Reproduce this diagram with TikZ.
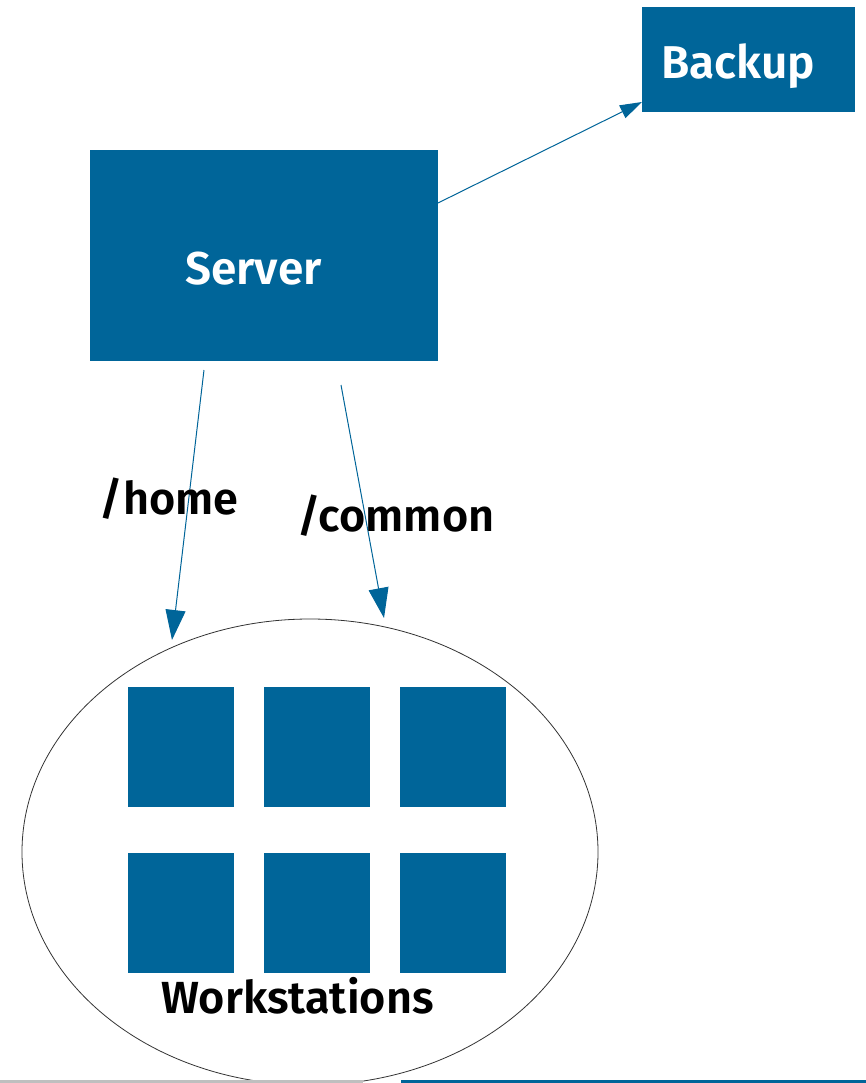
\documentclass[tikz,border=0pt]{standalone}
\usepackage{fontspec}
\setmainfont{Fira Sans}[BoldFont=* SemiBold]
\usetikzlibrary{arrows.meta,shapes.geometric}
\definecolor{nblue}{RGB}{0,101,153}
\begin{document}
\begin{tikzpicture}[x=1pt,y=-1pt,
  box/.style={fill=nblue,draw=none,inner sep=0pt},
  ws/.style={fill=nblue,draw=none,minimum width=106pt,minimum height=120pt,inner sep=0pt},
  lbl/.style={font=\fontsize{45}{49}\selectfont\bfseries,text=black,inner sep=0pt,anchor=base},
  wlbl/.style={lbl,text=white,font=\fontsize{46}{50}\selectfont\bfseries},
  conn/.style={draw=nblue,line width=1pt,-{Triangle[length=30pt,width=20pt]}}]
\useasboundingbox (0,0) rectangle (866,1083);
\fill[white] (0,0) rectangle (866,1083);
\node[box,minimum width=213pt,minimum height=105pt] (backup) at (748.5,59.5) {};
\node[box,minimum width=348pt,minimum height=211pt] (server) at (264,255.5) {};
\node[wlbl] (backuptext) at (738,79) {Backup};
\node[wlbl] (servertext) at (253.5,284) {Server};
\coordinate (sb) at (438,203);
\coordinate (tb) at (642,102);
\draw[draw=nblue,line width=1pt,-{Triangle[length=22pt,width=14pt]}] (sb) -- (tb);
\begin{scope}
\clip (0,0) rectangle (866,1083);
\node[draw=black!80,line width=0.8pt,ellipse,minimum width=576pt,minimum height=466pt,inner sep=0pt] (wsgroup) at (310,852) {};
\end{scope}
\node[ws] (w1) at (181,747) {};
\node[ws] (w2) at (317,747) {};
\node[ws] (w3) at (453,747) {};
\node[ws] (w4) at (181,913) {};
\node[ws] (w5) at (317,913) {};
\node[ws] (w6) at (453,913) {};
\node[lbl] (wlabel) at (297.5,1013) {Workstations};
\coordinate (h0) at (204,370);
\coordinate (h1) at (172,640);
\coordinate (c0) at (341,385);
\coordinate (c1) at (384,618);
\draw[conn] (h0) -- (h1);
\draw[conn] (c0) -- (c1);
\node[lbl] (home) at (169,514) {/home};
\node[lbl] (common) at (396,531) {/common};
\fill[black!25] (0,1080) rectangle (363,1083);
\fill[nblue] (401,1080) rectangle (866,1083);
\end{tikzpicture}
\end{document}
